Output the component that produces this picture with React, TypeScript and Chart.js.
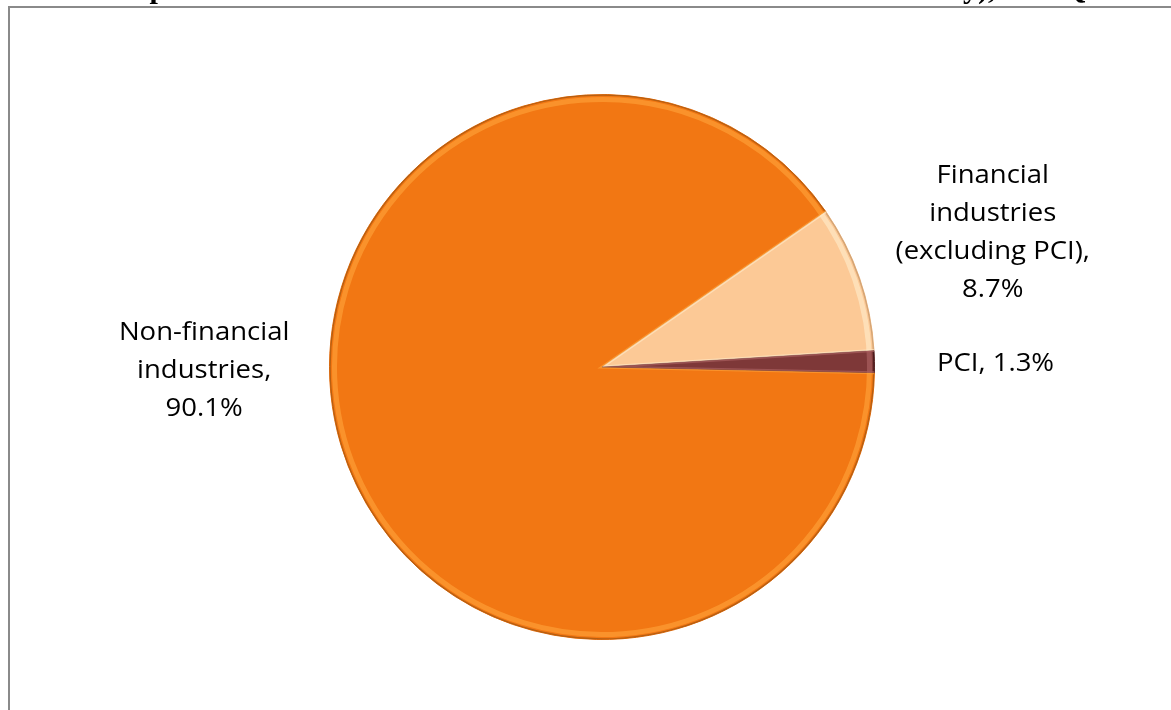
import React, { useEffect, useRef } from "react";
import { Chart, registerables } from "chart.js";

Chart.register(...registerables);

const titleText = "Composition of Net Income for Non-Financial and Financial Industry), 2010Q3";
const categories = ["Non-financial industries", "Financial industries (excluding PCI)", "PCI"];
const shares = [90.1, 8.7, 1.3];
const labelLines = [
  ["Non-financial", "industries,", "90.1%"],
  ["Financial", "industries", "(excluding PCI),", "8.7%"],
  ["PCI, 1.3%"],
];
const sliceColors = ["#F27713", "#FCC996", "#7E3838"];
const rimLight = ["rgba(255,165,60,0.6)", "rgba(255,232,196,0.7)", "rgba(170,95,95,0.7)"];
const rimDark = ["#B55F12", "#D4A576", "#4A1C1C"];

const labelPlugin = {
  id: "sliceLabels",
  afterDatasetsDraw(chart: any, _args: any, opts: any) {
    const { ctx } = chart;
    const meta = chart.getDatasetMeta(0);
    meta.data.forEach((arc: any, i: number) => {
      const p = arc.getProps(["x", "y", "startAngle", "endAngle", "outerRadius"], true);
      const r = p.outerRadius;
      ctx.save();
      ctx.beginPath();
      ctx.moveTo(p.x, p.y);
      ctx.arc(p.x, p.y, r, p.startAngle, p.endAngle);
      ctx.closePath();
      ctx.clip();
      ctx.lineWidth = 5;
      ctx.strokeStyle = rimLight[i];
      ctx.beginPath();
      ctx.arc(p.x, p.y, r - 5, p.startAngle - 0.1, p.endAngle + 0.1);
      ctx.stroke();
      ctx.lineWidth = 1.5;
      ctx.strokeStyle = rimDark[i];
      ctx.beginPath();
      ctx.arc(p.x, p.y, r - 0.5, p.startAngle - 0.1, p.endAngle + 0.1);
      ctx.stroke();
      ctx.lineWidth = 3;
      ctx.strokeStyle = rimLight[i];
      ctx.beginPath();
      ctx.moveTo(p.x + Math.cos(p.startAngle) * r, p.y + Math.sin(p.startAngle) * r);
      ctx.lineTo(p.x, p.y);
      ctx.lineTo(p.x + Math.cos(p.endAngle) * r, p.y + Math.sin(p.endAngle) * r);
      ctx.stroke();
      ctx.restore();
    });

    const anchors = opts.anchors;
    ctx.save();
    ctx.fillStyle = "#000";
    ctx.font = '25px "Open Sans"';
    ctx.textAlign = "center";
    ctx.textBaseline = "middle";
    meta.data.forEach((arc: any, i: number) => {
      const p = arc.getProps(["x", "y", "outerRadius"], true);
      const lines = labelLines[i];
      const cx = p.x + anchors[i][0] * p.outerRadius;
      const cy = p.y + anchors[i][1] * p.outerRadius;
      const lh = 38;
      lines.forEach((ln: string, k: number) => {
        const y = cy + (k - (lines.length - 1) / 2) * lh;
        ctx.save();
        ctx.translate(cx, y);
        ctx.scale(1.1, 1);
        ctx.fillText(ln, 0, 0);
        ctx.restore();
      });
    });
    ctx.restore();

    ctx.save();
    ctx.font = 'bold 30px "Liberation Serif"';
    ctx.fillStyle = "#000";
    ctx.textBaseline = "alphabetic";
    ctx.textAlign = "left";
    const cut = titleText.indexOf("y)");
    const pre = ctx.measureText(titleText.slice(0, cut)).width;
    ctx.fillText(titleText, 963 - pre, -2);
    ctx.restore();
  },
};

export default function App() {
  const ref = useRef<HTMLCanvasElement>(null);
  useEffect(() => {
    if (!ref.current) return;
    const chart = new Chart(ref.current, {
      type: "pie",
      data: {
        labels: categories,
        datasets: [
          {
            data: shares,
            backgroundColor: sliceColors,
            borderColor: ["#E06A0C", "#E8B27C", "#5E2828"],
            borderWidth: 1,
          },
        ],
      },
      options: {
        responsive: false,
        animation: false,
        rotation: 91.2,
        layout: { padding: { left: 328, right: 295, top: 94, bottom: 70 } },
        plugins: {
          legend: { display: false },
          title: { display: false },
          tooltip: { enabled: false },
          sliceLabels: {
            anchors: [
              [-1.46, 0.013],
              [1.434, -0.492],
              [1.444, -0.013],
            ],
          },
        } as any,
      },
      plugins: [labelPlugin],
    });
    return () => chart.destroy();
  }, []);
  return (
    <div style={{ position: "fixed", left: 0, top: 0, width: 1171, height: 710, background: "#fff", overflow: "hidden" }}>
      <div
        style={{
          position: "absolute",
          left: 8,
          top: 6,
          width: 1200,
          height: 760,
          border: "2px solid #8a8a8a",
          boxSizing: "border-box",
        }}
      />
      <canvas ref={ref} width={1171} height={710} style={{ position: "absolute", left: 0, top: 0 }} />
    </div>
  );
}
